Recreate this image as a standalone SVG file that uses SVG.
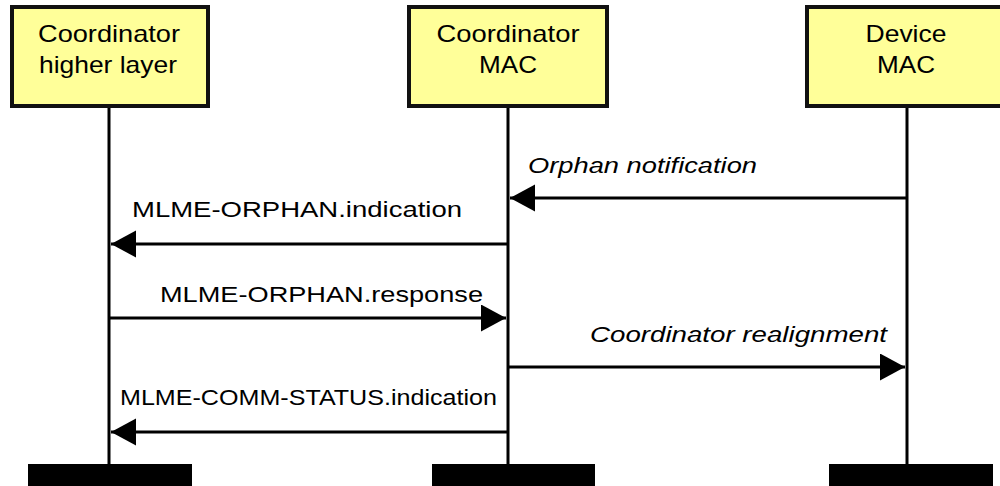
<svg xmlns="http://www.w3.org/2000/svg" width="1000" height="486" viewBox="0 0 1000 486">
  <style>
    .box { fill: #FFFF99; stroke: #111111; stroke-width: 4; }
    .life { stroke: #000000; stroke-width: 3; fill: none; }
    .bar { fill: #000000; }
    .title { font-family: "Liberation Sans", Arial, sans-serif; font-size: 24px; fill: #000000; text-anchor: middle; }
    .msg { stroke: #000000; stroke-width: 3; fill: none; marker-end: url(#head); }
    .lbl { font-family: "Liberation Sans", Arial, sans-serif; font-size: 22px; fill: #000000; }
    .it { font-style: italic; }
  </style>
  <defs>
    <marker id="head" markerUnits="userSpaceOnUse" markerWidth="26" markerHeight="28" refX="25" refY="13.5" orient="auto">
      <path d="M0,0 L25,13.5 L0,27 Z" fill="#000000"/>
    </marker>
  </defs>
  <rect width="1000" height="486" fill="#FFFFFF"/>

  <!-- Coordinator higher layer -->
  <g id="node-coord-higher">
    <line class="life" x1="109" y1="107" x2="109" y2="465"/>
    <rect class="box" x="12" y="7" width="196" height="99"/>
    <text class="title" x="109" y="42" textLength="142" lengthAdjust="spacingAndGlyphs">Coordinator</text>
    <text class="title" x="108" y="73" textLength="138" lengthAdjust="spacingAndGlyphs">higher layer</text>
    <rect class="bar" x="28" y="464" width="164" height="22"/>
  </g>

  <!-- Coordinator MAC -->
  <g id="node-coord-mac">
    <line class="life" x1="508" y1="107" x2="508" y2="465"/>
    <rect class="box" x="409" y="7" width="198" height="99"/>
    <text class="title" x="508" y="42" textLength="143" lengthAdjust="spacingAndGlyphs">Coordinator</text>
    <text class="title" x="508" y="73" textLength="58" lengthAdjust="spacingAndGlyphs">MAC</text>
    <rect class="bar" x="432" y="464" width="163" height="22"/>
  </g>

  <!-- Device MAC -->
  <g id="node-device-mac">
    <line class="life" x1="907" y1="107" x2="907" y2="465"/>
    <rect class="box" x="807" y="7" width="198" height="99"/>
    <text class="title" x="906" y="42" textLength="81" lengthAdjust="spacingAndGlyphs">Device</text>
    <text class="title" x="906" y="73" textLength="58" lengthAdjust="spacingAndGlyphs">MAC</text>
    <rect class="bar" x="829" y="464" width="164" height="22"/>
  </g>

  <!-- Messages -->
  <g id="connectors">
    <line class="msg" x1="907" y1="198" x2="510" y2="198"/>
    <text class="lbl it" x="528" y="173" textLength="229" lengthAdjust="spacingAndGlyphs">Orphan notification</text>

    <line class="msg" x1="508" y1="244" x2="111" y2="244"/>
    <text class="lbl" x="132" y="217" textLength="330" lengthAdjust="spacingAndGlyphs">MLME-ORPHAN.indication</text>

    <line class="msg" x1="109" y1="318" x2="506" y2="318"/>
    <text class="lbl" x="160" y="302" textLength="323" lengthAdjust="spacingAndGlyphs">MLME-ORPHAN.response</text>

    <line class="msg" x1="508" y1="367" x2="905" y2="367"/>
    <text class="lbl it" x="590" y="342" textLength="297" lengthAdjust="spacingAndGlyphs">Coordinator realignment</text>

    <line class="msg" x1="508" y1="432" x2="111" y2="432"/>
    <text class="lbl" x="120" y="405" textLength="377" lengthAdjust="spacingAndGlyphs">MLME-COMM-STATUS.indication</text>
  </g>
</svg>
